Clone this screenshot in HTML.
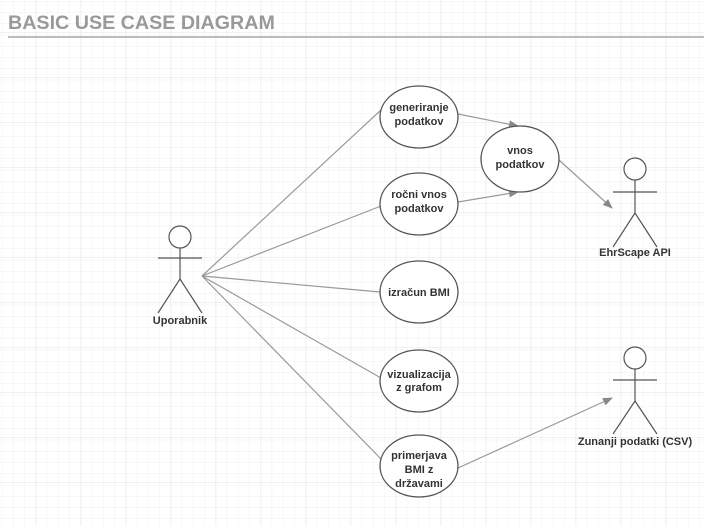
<!DOCTYPE html>
<html><head><style>
html,body{margin:0;padding:0;}
body{width:704px;height:526px;overflow:hidden;background:#fff;}
svg{display:block;}
text{font-family:"Liberation Sans",sans-serif;}
</style></head><body>
<svg width="704" height="526" viewBox="0 0 704 526" xmlns="http://www.w3.org/2000/svg">
<defs>
<pattern id="g" x="1.7" y="1" width="11.25" height="11.25" patternUnits="userSpaceOnUse">
<path d="M0 0V11.25M0 0H11.25" stroke="#efefef" stroke-width="1" fill="none"/>
</pattern>
<pattern id="G" x="35.7" y="32.3" width="45" height="45" patternUnits="userSpaceOnUse">
<path d="M0 0V45M0 0H45" stroke="#e6e6e6" stroke-width="1" fill="none"/>
</pattern>
<marker id="a" markerWidth="10" markerHeight="8" refX="9" refY="4" orient="auto" markerUnits="userSpaceOnUse">
<path d="M0 0L10 4L0 8z" fill="#888"/>
</marker>
</defs>
<rect width="704" height="526" fill="url(#g)"/>
<rect width="704" height="526" fill="url(#G)"/>
<text x="8" y="29" font-size="19.7" font-weight="bold" fill="#999">BASIC USE CASE DIAGRAM</text>
<line x1="8" y1="37" x2="704" y2="37" stroke="#bbb" stroke-width="2"/>

<g stroke="#999" stroke-width="1.2" fill="none">
<line x1="202" y1="276" x2="381" y2="110"/>
<line x1="202" y1="276" x2="381" y2="206"/>
<line x1="202" y1="276" x2="380" y2="292"/>
<line x1="202" y1="276" x2="381" y2="378"/>
<line x1="202" y1="276" x2="382" y2="460"/>
<line x1="458" y1="114" x2="518" y2="126" marker-end="url(#a)"/>
<line x1="458" y1="202" x2="518" y2="192" marker-end="url(#a)"/>
<line x1="559" y1="160" x2="612" y2="208" marker-end="url(#a)"/>
<line x1="458" y1="468" x2="612" y2="398" marker-end="url(#a)"/>
</g>

<g stroke="#555" stroke-width="1.3" fill="#fff">
<ellipse cx="419" cy="117" rx="39" ry="31"/>
<ellipse cx="419" cy="204" rx="39" ry="31"/>
<ellipse cx="419" cy="292" rx="39" ry="31"/>
<ellipse cx="419" cy="381" rx="39" ry="31"/>
<ellipse cx="419" cy="466" rx="39" ry="31"/>
<ellipse cx="520" cy="159" rx="39" ry="33"/>
</g>

<g font-size="11" font-weight="bold" fill="#333" text-anchor="middle">
<text x="419" y="111">generiranje</text><text x="419" y="125">podatkov</text>
<text x="419" y="198">ročni vnos</text><text x="419" y="212">podatkov</text>
<text x="419" y="296">izračun BMI</text>
<text x="419" y="378">vizualizacija</text><text x="419" y="391">z grafom</text>
<text x="419" y="459">primerjava</text><text x="419" y="473">BMI z</text><text x="419" y="487">državami</text>
<text x="520" y="154">vnos</text><text x="520" y="168">podatkov</text>
</g>

<g stroke="#555" stroke-width="1.2" fill="none">
<circle cx="180" cy="237" r="11" fill="#fff"/>
<line x1="158" y1="258" x2="202" y2="258"/>
<line x1="180" y1="248" x2="180" y2="279"/>
<path d="M158 313L180 279L202 313"/>
<circle cx="635" cy="169" r="11" fill="#fff"/>
<line x1="613" y1="192" x2="657" y2="192"/>
<line x1="635" y1="180" x2="635" y2="213"/>
<path d="M613 247L635 213L657 247"/>
<circle cx="635" cy="358" r="11" fill="#fff"/>
<line x1="613" y1="380" x2="657" y2="380"/>
<line x1="635" y1="369" x2="635" y2="401"/>
<path d="M613 434L635 401L657 434"/>
</g>
<g font-size="11" font-weight="bold" fill="#333" text-anchor="middle">
<text x="180" y="324">Uporabnik</text>
<text x="635" y="256">EhrScape API</text>
<text x="635" y="445">Zunanji podatki (CSV)</text>
</g>
</svg>
</body></html>
